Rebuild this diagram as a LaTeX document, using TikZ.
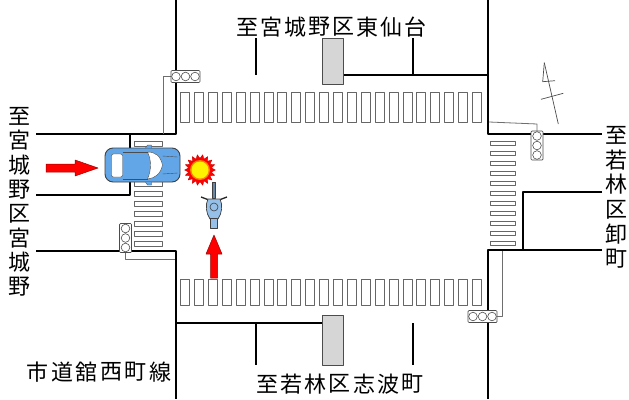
\documentclass[tikz,border=0pt]{standalone}
\usepackage{fontspec}
\newfontfamily\jpfont{Noto Sans CJK JP}
\definecolor{carblue}{RGB}{98,166,232}
\definecolor{bikeblue}{RGB}{150,192,232}
\definecolor{polegray}{RGB}{110,110,110}
\definecolor{islegray}{RGB}{214,214,214}
\tikzset{
  road/.style={line width=1.6pt,black},
  pole/.style={line width=0.8pt,polegray},
  zebra/.style={fill=white,draw=black!60,line width=0.7pt},
  jp/.style={font=\jpfont\fontsize{22}{24}\selectfont,inner sep=0pt},
  hit/.style={fill=red,draw=red!60!black,line width=0.5pt},
  signal/.pic={
    \draw[fill=white,draw=black!70,line width=0.7pt,rounded corners=1pt] (-14.5,-6) rectangle (14.5,6);
    \foreach \u in {-9.5,0,9.5} \draw[black!70,line width=0.6pt] (\u,0) circle[radius=4.3pt];
  }
}
\begin{document}
\begin{tikzpicture}[x=1pt,y=-1pt,line join=round]
  \useasboundingbox[fill=white] (0,0) rectangle (629,399);

  % crosswalks
  \foreach \i in {0,...,21} {
    \draw[zebra] ({180.5+13.9*\i},92) rectangle +(9,30);
    \draw[zebra] ({180.5+13.9*\i},279) rectangle +(9,26);
  }
  \foreach \i in {0,...,10} {
    \draw[zebra] (134,{141.5+10*\i}) rectangle +(28,4.5);
    \draw[zebra] (490,{141.5+10*\i}) rectangle +(25,4);
  }

  % road edges, stop lines and lane lines
  \draw[road] (36,134) -- (176,134) -- (176,0);
  \draw[road] (36,195) -- (130,195) -- (130,134);
  \draw[road] (36,251) -- (176,251) -- (176,399);
  \draw[road] (488,0) -- (488,134) -- (602,134);
  \draw[road] (602,192) -- (523,192) -- (523,250);
  \draw[road] (602,250) -- (488,250) -- (488,399);
  \draw[road] (343,75) -- (488,75);
  \draw[road] (256,38) -- (256,75) (413,38) -- (413,75);
  \draw[road] (176,323) -- (322,323);
  \draw[road] (256,323) -- (256,365) (413,323) -- (413,365);

  % medians
  \draw[fill=islegray,draw=black!70,line width=0.8pt] (322,38) rectangle (343,84);
  \draw[fill=islegray,draw=black!70,line width=0.8pt] (322,315) rectangle (343,365);

  % signals
  \draw[pole] (171,76.5) -- (163,76.5) -- (163,134);
  \draw[pole] (125.5,252) -- (125.5,259) -- (175,259);
  \draw[pole] (537,131) -- (537,124) -- (489,122);
  \draw[pole] (497,316.5) -- (502,316.5) -- (502,251);
  \pic at (185.5,76.5) {signal};
  \pic at (482.5,316.5) {signal};
  \pic[rotate=90] at (125.5,238) {signal};
  \pic[rotate=90] at (537,145.5) {signal};

  % north mark
  \draw[black!70,line width=0.7pt] (544.3,62.7) -- (558.3,124);
  \draw[black!70,line width=0.7pt] (544.3,62.7) -- (542.7,81.7) -- (555,80.7);
  \draw[black!70,line width=0.7pt] (541,99.3) -- (563.3,93.3);

  % car
  \begin{scope}[shift={(142.5,165)}]
    \draw[fill=carblue,draw=black!75,line width=0.9pt,rounded corners=8pt] (-37.5,-17) rectangle (37.5,17);
    \draw[fill=white,draw=black!70,rounded corners=2pt] (-31,-11) rectangle (-20,12);
    \draw[fill=white,draw=black!70] (5,-13) .. controls (13,-13) and (18,-9) .. (20,0)
      .. controls (18,9) and (13,13) .. (5,14) .. controls (9,5) and (9,-5) .. (5,-13);
    \draw[black!70] (-20,-13) -- (5,-13) (-20,14) -- (5,14);
    \draw[black!70] (20,-9) -- (35,-8) (20,9) -- (35,8);
    \draw[fill=carblue,draw=black!70] (3,-17) -- (5,-20) -- (9,-20) -- (9,-17);
    \draw[fill=carblue,draw=black!70] (3,17) -- (5,20) -- (9,20) -- (9,17);
  \end{scope}

  % crash mark
  \begin{scope}[shift={(200,170)}]
    \filldraw[fill=red,draw=red!80!black,line width=0.4pt] (0:15.5)
      \foreach \k in {0,...,17} { -- (\k*20+10:11.5) -- (\k*20+20:15.5) } -- cycle;
    \fill[orange] (0,0) circle[radius=10pt];
    \fill[yellow] (0,0) circle[radius=8.5pt];
  \end{scope}

  % motorcycle
  \begin{scope}[shift={(214,205)}]
    \draw[fill=bikeblue!70!black,draw=black!75,line width=0.5pt] (-1.5,-23) rectangle (1.5,-7);
    \draw[line width=1.3pt,black!85] (-13,-8) -- (-5,-5) -- (5,-5) -- (13,-8);
    \draw[fill=bikeblue,draw=black!75,line width=0.7pt] (-6,-6) .. controls (-9,0) and (-8,8) .. (-4,14)
      -- (4,14) .. controls (8,8) and (9,0) .. (6,-6) -- cycle;
    \draw[fill=bikeblue,draw=black!75,line width=0.6pt] (0,2) circle[radius=4pt];
    \draw[fill=bikeblue,draw=black!75,line width=0.6pt] (-3.5,13) rectangle (3.5,23);
  \end{scope}

  % travel directions
  \filldraw[hit] (46,164) -- (75,164) -- (75,160) -- (98,168) -- (75,176) -- (75,172) -- (46,172) -- cycle;
  \filldraw[hit] (210.5,278) -- (210.5,254) -- (206,254) -- (214,235) -- (222,254) -- (217.5,254) -- (217.5,278) -- cycle;

  % place names
  \foreach \ch [count=\i] in {至,宮,城,野,区,東,仙,台}
    \node[jp] (east\i) at ({223+24*\i},27) {\ch};
  \foreach \ch [count=\i] in {至,宮,城,野,区,宮,城,野}
    \node[jp] (west\i) at (20,{91.6+24.4*\i}) {\ch};
  \foreach \ch [count=\i] in {至,若,林,区,卸,町}
    \node[jp] (north\i) at (616,{110.2+24.8*\i}) {\ch};
  \foreach \ch [count=\i] in {至,若,林,区,志,波,町}
    \node[jp] (south\i) at ({242.7+24.3*\i},384) {\ch};
  \foreach \ch [count=\i] in {市,道,舘,西,町,線}
    \node[jp] (route\i) at ({13+24.5*\i},372) {\ch};
\end{tikzpicture}
\end{document}
